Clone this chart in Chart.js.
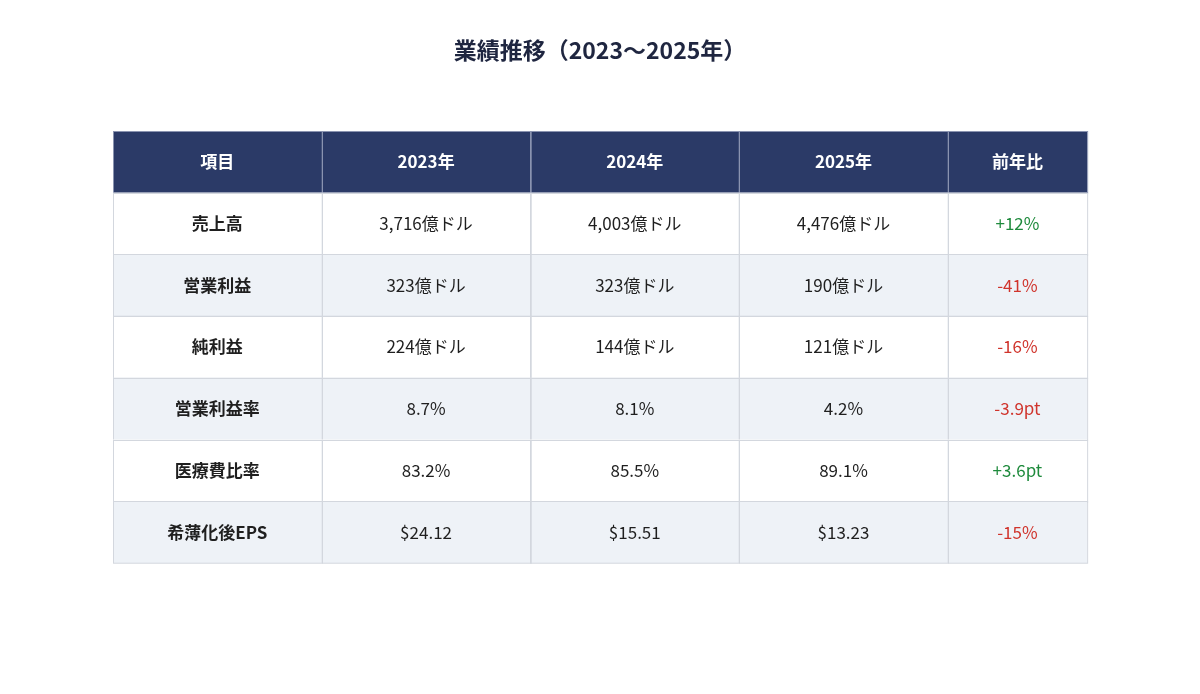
<!DOCTYPE html>
<html>
<head>
<meta charset="utf-8">
<script src="https://cdn.jsdelivr.net/npm/chart.js@4"></script>
<style>
  body { margin: 0; background: #fff; }
  #wrap { width: 1200px; height: 694px; }
</style>
</head>
<body>
<div id="wrap"><canvas id="tableChart"></canvas></div>
<script>
// table data
const headers = ['項目', '2023年', '2024年', '2025年', '前年比'];
const items = ['売上高', '営業利益', '純利益', '営業利益率', '医療費比率', '希薄化後EPS'];
const values2023 = ['3,716億ドル', '323億ドル', '224億ドル', '8.7%', '83.2%', '$24.12'];
const values2024 = ['4,003億ドル', '323億ドル', '144億ドル', '8.1%', '85.5%', '$15.51'];
const values2025 = ['4,476億ドル', '190億ドル', '121億ドル', '4.2%', '89.1%', '$13.23'];
const yoy = ['+12%', '-41%', '-16%', '-3.9pt', '+3.6pt', '-15%'];

const FONT = '"Noto Sans CJK JP", "Noto Sans", sans-serif';
const colUnits = [1.5, 1.5, 1.5, 1.5, 1];
const colEdges = [0];
colUnits.forEach(u => colEdges.push(colEdges[colEdges.length - 1] + u));

// draws the table cells through the chart's x/y scales
const tablePlugin = {
    id: 'tablePlugin',
    afterDraw(chart) {
        const ctx = chart.ctx;
        const x = chart.scales.x, y = chart.scales.y;
        const rows = [headers].concat(items.map((it, i) => [it, values2023[i], values2024[i], values2025[i], yoy[i]]));

        ctx.save();
        // title
        ctx.fillStyle = '#1f2640';
        ctx.font = 'bold 23px ' + FONT;
        ctx.textAlign = 'center';
        ctx.textBaseline = 'middle';
        ctx.fillText('業績推移（2023〜2025年）', chart.width / 2, 50);

        rows.forEach((row, r) => {
            const top = y.getPixelForValue(r), bottom = y.getPixelForValue(r + 1);
            const left = x.getPixelForValue(0), right = x.getPixelForValue(colEdges[colEdges.length - 1]);
            ctx.fillStyle = r === 0 ? '#2b3a67' : (r % 2 === 0 ? '#eef2f7' : '#ffffff');
            ctx.fillRect(left, top, right - left, bottom - top);

            row.forEach((txt, c) => {
                const cl = x.getPixelForValue(colEdges[c]), cr = x.getPixelForValue(colEdges[c + 1]);
                ctx.strokeStyle = r === 0 ? '#8a93b0' : '#d3d7de';
                ctx.lineWidth = 1;
                ctx.strokeRect(Math.round(cl) + 0.5, Math.round(top) + 0.5, cr - cl, bottom - top);

                let color = '#1f1f1f', bold = false;
                if (r === 0) { color = '#ffffff'; bold = true; }
                else if (c === 0) bold = true;
                else if (c === 4) color = txt.startsWith('+') ? '#1e8a3c' : '#d0342c';
                ctx.fillStyle = color;
                ctx.font = (bold ? 'bold ' : '') + '17px ' + FONT;
                ctx.fillText(txt, (cl + cr) / 2, (top + bottom) / 2);
            });
        });
        ctx.restore();
    }
};

const ctx = document.getElementById('tableChart').getContext('2d');
const tableChart = new Chart(ctx, {
    type: 'scatter',
    data: { datasets: [{ data: [] }] },
    options: {
        responsive: true,
        maintainAspectRatio: false,
        animation: false,
        layout: { padding: { left: 113, right: 113, top: 131, bottom: 131 } },
        plugins: { legend: { display: false }, tooltip: { enabled: false } },
        scales: {
            x: { type: 'linear', display: false, min: 0, max: colEdges[colEdges.length - 1] },
            y: { type: 'linear', display: false, reverse: true, min: 0, max: items.length + 1 }
        }
    },
    plugins: [tablePlugin]
});
</script>
</body>
</html>
